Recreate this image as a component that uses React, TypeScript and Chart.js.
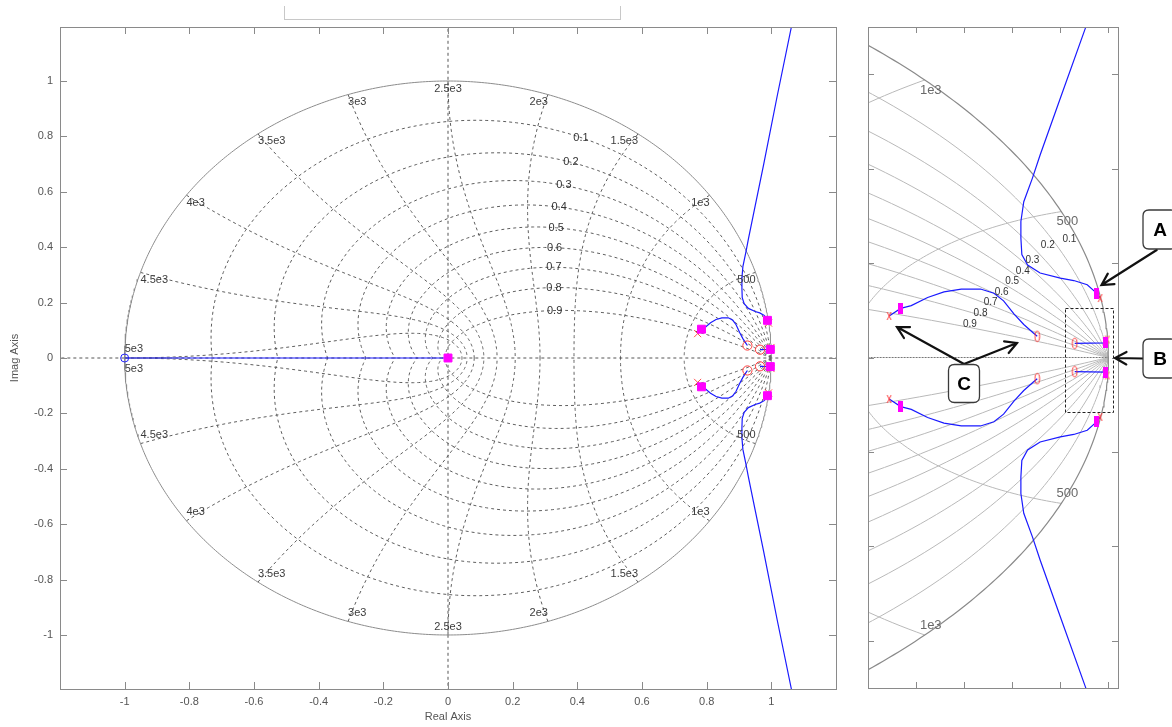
import React, { useEffect, useRef } from 'react';
import { Chart, registerables } from 'chart.js';

Chart.register(...registerables);

const FONT = '"Liberation Sans", Arial, Helvetica, sans-serif';

// ---------- axis ticks ----------
const mainXTicks = [-1, -0.8, -0.6, -0.4, -0.2, 0, 0.2, 0.4, 0.6, 0.8, 1];
const mainYTicks = [-1, -0.8, -0.6, -0.4, -0.2, 0, 0.2, 0.4, 0.6, 0.8, 1];
const insetXTicks = [0.8, 0.85, 0.9, 0.95, 1];
const insetYTicks = [-0.6, -0.4, -0.2, 0, 0.2, 0.4, 0.6];

// ---------- z-plane grid ----------
const zetaLevels = [0.1, 0.2, 0.3, 0.4, 0.5, 0.6, 0.7, 0.8, 0.9];
const zetaLabels = ['0.1', '0.2', '0.3', '0.4', '0.5', '0.6', '0.7', '0.8', '0.9'];
// natural frequency as fraction of Nyquist (wn*T/pi)
const wnFractions = [0.1, 0.2, 0.3, 0.4, 0.5, 0.6, 0.7, 0.8, 0.9, 1.0];
const wnLabels = ['500', '1e3', '1.5e3', '2e3', '2.5e3', '3e3', '3.5e3', '4e3', '4.5e3', '5e3'];
const zetaLabelWn = 0.35; // label position on each damping curve (fraction of Nyquist)
const insetWnShown = 2;
const insetZetaLabelX = [0.9594, 0.937, 0.921, 0.911, 0.9, 0.889, 0.8776, 0.867, 0.856];
const insetZetaLabelY = [0.251, 0.2387, 0.205, 0.182, 0.161, 0.1385, 0.1167, 0.093, 0.071];

// ---------- root locus branches (upper half, lower half mirrored) ----------
const realBranchX = [-1, 0];
const realBranchY = [0, 0];
const innerBranchX = [0.772, 0.784, 0.795, 0.812, 0.829, 0.847, 0.867, 0.881, 0.891, 0.902, 0.912, 0.922, 0.926];
const innerBranchY = [0.088, 0.104, 0.11, 0.127, 0.139, 0.145, 0.145, 0.136, 0.12, 0.092, 0.07, 0.052, 0.045];
const outerBranchX = [0.9915, 0.988, 0.978, 0.964, 0.95, 0.929, 0.916, 0.91, 0.909, 0.909, 0.912, 0.921, 0.929, 0.95, 0.976, 1.018, 1.062, 1.08];
const outerBranchY = [0.126, 0.136, 0.154, 0.163, 0.168, 0.179, 0.196, 0.218, 0.253, 0.288, 0.33, 0.38, 0.429, 0.549, 0.697, 0.945, 1.195, 1.3];
const nearOneBranchX = [0.965, 0.997, 0.999];
const nearOneBranchY = [0.03, 0.031, 0.038];

// ---------- markers (upper half, mirrored) ----------
const poleX = [0.772, 0.9915, 0.999];
const poleY = [0.088, 0.126, 0.038];
const zeroX = [0.926, 0.965];
const zeroY = [0.045, 0.03];
const realZeroX = [-1];
const realZeroY = [0];
const closedLoopX = [0.784, 0.988, 0.997];
const closedLoopY = [0.104, 0.136, 0.031];
const originPoleX = [0];
const originPoleY = [0];

type P = { x: number; y: number };
const zip = (xs: number[], ys: number[]): P[] => xs.map((x, i) => ({ x, y: ys[i] }));
const mirror = (pts: P[]): P[] => pts.map((p) => ({ x: p.x, y: -p.y }));
const both = (pts: P[]): P[] => [...pts, ...mirror(pts)];

function wnCurve(frac: number, sign: number): P[] {
  const w = frac * Math.PI;
  const pts: P[] = [];
  const N = 90;
  for (let i = 0; i <= N; i++) {
    const t = (i / N) * (Math.PI / 2);
    const z = Math.sin(t);
    const r = Math.exp(-w * z);
    const a = w * Math.cos(t);
    pts.push({ x: r * Math.cos(a), y: sign * r * Math.sin(a) });
  }
  return pts;
}

function zetaCurve(zeta: number, sign: number): P[] {
  const m = zeta / Math.sqrt(1 - zeta * zeta);
  const pts: P[] = [];
  const N = 160;
  for (let i = 0; i <= N; i++) {
    const th = Math.PI * Math.pow(i / N, 2);
    const r = Math.exp(-m * th);
    pts.push({ x: r * Math.cos(th), y: sign * r * Math.sin(th) });
  }
  return pts;
}

function zetaPoint(zeta: number, frac: number): P {
  const w = frac * Math.PI;
  const r = Math.exp(-w * zeta);
  const a = w * Math.sqrt(1 - zeta * zeta);
  return { x: r * Math.cos(a), y: r * Math.sin(a) };
}

function unitCircle(): P[] {
  const pts: P[] = [];
  for (let i = 0; i <= 720; i++) {
    const a = (i / 720) * 2 * Math.PI;
    pts.push({ x: Math.cos(a), y: Math.sin(a) });
  }
  return pts;
}

const lineDs = (data: P[], color: string, width: number, dash: number[], order: number) => ({
  data,
  showLine: true,
  borderColor: color,
  borderWidth: width,
  borderDash: dash,
  pointRadius: 0,
  pointHoverRadius: 0,
  fill: false,
  tension: 0,
  order,
});

const fmt = (v: number) => String(Number(Number(v).toFixed(2)));

function gridDatasets(inset: boolean) {
  const ds: any[] = [];
  const gColor = inset ? '#b9b9b9' : '#5e5e5e';
  const dash = inset ? [] : [3, 3];
  const w = inset ? 1 : 1;
  ds.push(lineDs(unitCircle(), inset ? '#8a8a8a' : '#8c8c8c', inset ? 1.2 : 1, [], 20));
  if (!inset) {
    ds.push(lineDs([{ x: 0, y: -1.4 }, { x: 0, y: 1.4 }], '#555', 1, [3, 3], 20));
    ds.push(lineDs([{ x: -1.4, y: 0 }, { x: 1.4, y: 0 }], '#555', 1, [3, 3], 20));
  } else {
    ds.push(lineDs([{ x: 0.5, y: 0 }, { x: 1.0, y: 0 }], '#777', 1, [2, 1], 20));
  }
  wnFractions.forEach((f) => {
    ds.push(lineDs(wnCurve(f, 1), gColor, w, dash, 20));
    ds.push(lineDs(wnCurve(f, -1), gColor, w, dash, 20));
  });
  zetaLevels.forEach((z) => {
    ds.push(lineDs(zetaCurve(z, 1), gColor, w, dash, 20));
    ds.push(lineDs(zetaCurve(z, -1), gColor, w, dash, 20));
  });
  return ds;
}

function locusDatasets() {
  const blue = '#1a1aff';
  const ds: any[] = [];
  ds.push(lineDs(zip(realBranchX, realBranchY), blue, 1.2, [], 5));
  const branches = [zip(innerBranchX, innerBranchY), zip(outerBranchX, outerBranchY), zip(nearOneBranchX, nearOneBranchY)];
  branches.forEach((b) => {
    ds.push(lineDs(b, blue, 1.2, [], 5));
    ds.push(lineDs(mirror(b), blue, 1.2, [], 5));
  });
  return ds;
}

function makeImg(w: number, h: number, draw: (g: CanvasRenderingContext2D) => void) {
  const c = document.createElement('canvas');
  c.width = w;
  c.height = h;
  const g = c.getContext('2d')!;
  draw(g);
  return c;
}

function markerDatasets(inset: boolean) {
  const poles = both(zip(poleX, poleY));
  const zeros = both(zip(zeroX, zeroY));
  const squares = [...both(zip(closedLoopX, closedLoopY)), ...zip(originPoleX, originPoleY)];
  const realZeros = zip(realZeroX, realZeroY);
  const base = { showLine: false, order: 0, pointHoverRadius: 0 };
  if (!inset) {
    return [
      { ...base, data: squares, pointStyle: 'rect', pointRadius: 5.6, backgroundColor: '#ff00ff', borderColor: '#ff00ff', borderWidth: 1 },
      { ...base, data: poles, pointStyle: 'crossRot', pointRadius: 5, borderColor: '#ff5050', backgroundColor: 'transparent', borderWidth: 1 },
      { ...base, data: zeros, pointStyle: 'circle', pointRadius: 4.6, borderColor: '#ff3a3a', backgroundColor: 'transparent', borderWidth: 1 },
      { ...base, data: realZeros, pointStyle: 'circle', pointRadius: 4, borderColor: '#2020ff', backgroundColor: 'transparent', borderWidth: 1 },
    ];
  }
  const sq = makeImg(5, 11, (g) => {
    g.fillStyle = '#ff00ff';
    g.fillRect(0, 0, 5, 11);
  });
  const xx = makeImg(6, 10, (g) => {
    g.strokeStyle = '#ff4040';
    g.lineWidth = 1;
    g.beginPath();
    g.moveTo(1, 1);
    g.lineTo(5, 9);
    g.moveTo(5, 1);
    g.lineTo(1, 9);
    g.stroke();
  });
  const oo = makeImg(7, 13, (g) => {
    g.strokeStyle = '#ff3a3a';
    g.lineWidth = 1;
    g.beginPath();
    g.ellipse(3.5, 6.5, 2.3, 5.2, 0, 0, Math.PI * 2);
    g.stroke();
  });
  return [
    { ...base, data: squares, pointStyle: sq, pointRadius: 5 },
    { ...base, data: poles, pointStyle: xx, pointRadius: 5 },
    { ...base, data: zeros, pointStyle: oo, pointRadius: 5 },
  ];
}

function drawFrameTicks(ctx: CanvasRenderingContext2D, chart: any, xt: number[], yt: number[], len: number) {
  const { left, right, top, bottom } = chart.chartArea;
  const x = chart.scales.x;
  const y = chart.scales.y;
  ctx.save();
  ctx.strokeStyle = '#8a8a8a';
  ctx.lineWidth = 1;
  ctx.strokeRect(Math.round(left) + 0.5, Math.round(top) + 0.5, Math.round(right - left), Math.round(bottom - top));
  ctx.beginPath();
  xt.forEach((v) => {
    const px = Math.round(x.getPixelForValue(v)) + 0.5;
    ctx.moveTo(px, bottom);
    ctx.lineTo(px, bottom - len);
    ctx.moveTo(px, top);
    ctx.lineTo(px, top + len);
  });
  yt.forEach((v) => {
    const py = Math.round(y.getPixelForValue(v)) + 0.5;
    ctx.moveTo(left, py);
    ctx.lineTo(left + len, py);
    ctx.moveTo(right, py);
    ctx.lineTo(right - len, py);
  });
  ctx.stroke();
  ctx.restore();
}

const mainDecor = {
  id: 'mainDecor',
  afterDatasetsDraw(chart: any) {
    const ctx = chart.ctx as CanvasRenderingContext2D;
    const x = chart.scales.x;
    const y = chart.scales.y;
    ctx.save();
    // natural-frequency labels
    ctx.font = `11px ${FONT}`;
    ctx.fillStyle = '#3c3c3c';
    wnFractions.forEach((f, i) => {
      const a = f * Math.PI;
      const px = x.getPixelForValue(Math.cos(a));
      const pyU = y.getPixelForValue(Math.sin(a));
      const pyL = y.getPixelForValue(-Math.sin(a));
      ctx.textAlign = f < 0.5 ? 'right' : f > 0.5 ? 'left' : 'center';
      if (f >= 1) {
        ctx.textBaseline = 'bottom';
        ctx.fillText(wnLabels[i], px, pyU - 4);
        ctx.textBaseline = 'top';
        ctx.fillText(wnLabels[i], px, pyL + 5);
      } else {
        ctx.textBaseline = 'top';
        ctx.fillText(wnLabels[i], px, pyU + 2);
        ctx.textBaseline = 'bottom';
        ctx.fillText(wnLabels[i], px, pyL - 3);
      }
    });
    // damping labels
    ctx.textAlign = 'center';
    ctx.textBaseline = 'middle';
    ctx.fillStyle = '#333';
    zetaLevels.forEach((z, i) => {
      const p = zetaPoint(z, zetaLabelWn);
      ctx.fillText(zetaLabels[i], x.getPixelForValue(p.x), y.getPixelForValue(p.y));
    });
    ctx.restore();
  },
  afterDraw(chart: any) {
    const ctx = chart.ctx as CanvasRenderingContext2D;
    drawFrameTicks(ctx, chart, mainXTicks, mainYTicks, 7);
    ctx.save();
    ctx.font = `11px ${FONT}`;
    ctx.fillStyle = '#555';
    ctx.textAlign = 'center';
    ctx.textBaseline = 'middle';
    ctx.fillText('Real Axis', (chart.chartArea.left + chart.chartArea.right) / 2, 717);
    ctx.translate(15, (chart.chartArea.top + chart.chartArea.bottom) / 2);
    ctx.rotate(-Math.PI / 2);
    ctx.fillText('Imag Axis', 0, 0);
    ctx.restore();
  },
};

function roundRect(ctx: CanvasRenderingContext2D, x: number, y: number, w: number, h: number, r: number) {
  ctx.beginPath();
  ctx.moveTo(x + r, y);
  ctx.lineTo(x + w - r, y);
  ctx.quadraticCurveTo(x + w, y, x + w, y + r);
  ctx.lineTo(x + w, y + h - r);
  ctx.quadraticCurveTo(x + w, y + h, x + w - r, y + h);
  ctx.lineTo(x + r, y + h);
  ctx.quadraticCurveTo(x, y + h, x, y + h - r);
  ctx.lineTo(x, y + r);
  ctx.quadraticCurveTo(x, y, x + r, y);
  ctx.closePath();
}

function arrow(ctx: CanvasRenderingContext2D, x0: number, y0: number, x1: number, y1: number) {
  const a = Math.atan2(y1 - y0, x1 - x0);
  const L = 13;
  const s = 0.5;
  ctx.beginPath();
  ctx.moveTo(x0, y0);
  ctx.lineTo(x1, y1);
  ctx.moveTo(x1 - L * Math.cos(a - s), y1 - L * Math.sin(a - s));
  ctx.lineTo(x1, y1);
  ctx.lineTo(x1 - L * Math.cos(a + s), y1 - L * Math.sin(a + s));
  ctx.stroke();
}

function labelBox(ctx: CanvasRenderingContext2D, x: number, y: number, w: number, h: number, t: string) {
  roundRect(ctx, x, y, w, h, 6);
  ctx.fillStyle = '#fff';
  ctx.fill();
  ctx.strokeStyle = '#3a3a3a';
  ctx.lineWidth = 1.3;
  ctx.stroke();
  ctx.fillStyle = '#000';
  ctx.font = `bold 19px ${FONT}`;
  ctx.textAlign = 'center';
  ctx.textBaseline = 'middle';
  ctx.fillText(t, x + w / 2, y + h / 2 + 1);
}

const insetDecor = {
  id: 'insetDecor',
  afterDatasetsDraw(chart: any) {
    const ctx = chart.ctx as CanvasRenderingContext2D;
    const x = chart.scales.x;
    const y = chart.scales.y;
    const { left, right, top, bottom } = chart.chartArea;
    ctx.save();
    ctx.beginPath();
    ctx.rect(left, top, right - left, bottom - top);
    ctx.clip();
    // wn labels
    ctx.font = `13px ${FONT}`;
    ctx.fillStyle = '#6a6a6a';
    ctx.textAlign = 'center';
    ctx.textBaseline = 'middle';
    for (let i = 0; i < insetWnShown; i++) {
      const a = wnFractions[i] * Math.PI;
      const px = x.getPixelForValue(Math.cos(a));
      ctx.fillText(wnLabels[i], px + 6, y.getPixelForValue(Math.sin(a)) + 10);
      ctx.fillText(wnLabels[i], px + 6, y.getPixelForValue(-Math.sin(a)) - 10);
    }
    // damping labels
    ctx.font = `10px ${FONT}`;
    ctx.fillStyle = '#333';
    zetaLabels.forEach((t, i) => {
      ctx.fillText(t, x.getPixelForValue(insetZetaLabelX[i]), y.getPixelForValue(insetZetaLabelY[i]));
    });
    // zoom rectangle
    ctx.strokeStyle = '#222';
    ctx.lineWidth = 1;
    ctx.setLineDash([3, 2]);
    const rx0 = x.getPixelForValue(0.955);
    const rx1 = x.getPixelForValue(1.005);
    const ry0 = y.getPixelForValue(0.105);
    const ry1 = y.getPixelForValue(-0.116);
    ctx.strokeRect(Math.round(rx0) + 0.5, Math.round(ry0) + 0.5, Math.round(rx1 - rx0), Math.round(ry1 - ry0));
    ctx.setLineDash([]);
    ctx.restore();
  },
  afterDraw(chart: any) {
    const ctx = chart.ctx as CanvasRenderingContext2D;
    drawFrameTicks(ctx, chart, insetXTicks, insetYTicks, 6);
    ctx.save();
    ctx.strokeStyle = '#111';
    ctx.lineWidth = 2.2;
    ctx.lineCap = 'round';
    arrow(ctx, 296.7, 250, 241.5, 285);
    arrow(ctx, 283, 358.5, 255, 358);
    arrow(ctx, 104, 364, 37, 327);
    arrow(ctx, 104, 364, 157, 343);
    labelBox(ctx, 283, 210, 34, 39, 'A');
    labelBox(ctx, 283, 339, 34, 39, 'B');
    labelBox(ctx, 88.5, 364.5, 31, 38, 'C');
    ctx.restore();
  },
};

function mainConfig(): any {
  return {
    type: 'scatter',
    data: { datasets: [...markerDatasets(false), ...locusDatasets(), ...gridDatasets(false)] },
    options: {
      responsive: false,
      animation: false,
      devicePixelRatio: 1,
      events: [],
      layout: { padding: { left: 0, right: 14, top: 27, bottom: 0 } },
      plugins: { legend: { display: false }, tooltip: { enabled: false } },
      scales: {
        x: {
          type: 'linear',
          min: -1.2,
          max: 1.2,
          afterBuildTicks: (s: any) => {
            s.ticks = mainXTicks.map((v) => ({ value: v }));
          },
          afterFit: (s: any) => {
            s.height = 38;
          },
          grid: { display: false, drawTicks: false },
          border: { display: false },
          ticks: { padding: 6, color: '#555', autoSkip: false, maxRotation: 0, font: { family: FONT, size: 11 }, callback: (v: number) => fmt(v) },
        },
        y: {
          type: 'linear',
          min: -1.195,
          max: 1.195,
          afterBuildTicks: (s: any) => {
            s.ticks = mainYTicks.map((v) => ({ value: v }));
          },
          afterFit: (s: any) => {
            s.width = 60;
          },
          grid: { display: false, drawTicks: false },
          border: { display: false },
          ticks: { padding: 7, color: '#555', autoSkip: false, font: { family: FONT, size: 11 }, callback: (v: number) => fmt(v) },
        },
      },
    },
    plugins: [mainDecor],
  };
}

function insetConfig(): any {
  return {
    type: 'scatter',
    data: { datasets: [...markerDatasets(true), ...locusDatasets(), ...gridDatasets(true)] },
    options: {
      responsive: false,
      animation: false,
      devicePixelRatio: 1,
      events: [],
      layout: { padding: { left: 8, right: 54, top: 27, bottom: 39 } },
      plugins: { legend: { display: false }, tooltip: { enabled: false } },
      scales: {
        x: { type: 'linear', display: false, min: 0.75, max: 1.01 },
        y: { type: 'linear', display: false, min: -0.7, max: 0.7 },
      },
    },
    plugins: [insetDecor],
  };
}

export default function App() {
  const mainRef = useRef<HTMLCanvasElement>(null);
  const insetRef = useRef<HTMLCanvasElement>(null);
  useEffect(() => {
    const c1 = new Chart(mainRef.current!, mainConfig());
    const c2 = new Chart(insetRef.current!, insetConfig());
    return () => {
      c1.destroy();
      c2.destroy();
    };
  }, []);
  return (
    <div style={{ position: 'fixed', left: 0, top: 0, width: 1172, height: 727, background: '#fff', overflow: 'hidden' }}>
      <div
        style={{
          position: 'absolute',
          left: 284,
          top: 6,
          width: 337,
          height: 14,
          boxSizing: 'border-box',
          borderLeft: '1px solid #c8c8c8',
          borderRight: '1px solid #c8c8c8',
          borderBottom: '1px solid #c8c8c8',
        }}
      />
      <canvas ref={mainRef} width={850} height={727} style={{ position: 'absolute', left: 0, top: 0, width: 850, height: 727 }} />
      <canvas ref={insetRef} width={312} height={727} style={{ position: 'absolute', left: 860, top: 0, width: 312, height: 727 }} />
    </div>
  );
}
